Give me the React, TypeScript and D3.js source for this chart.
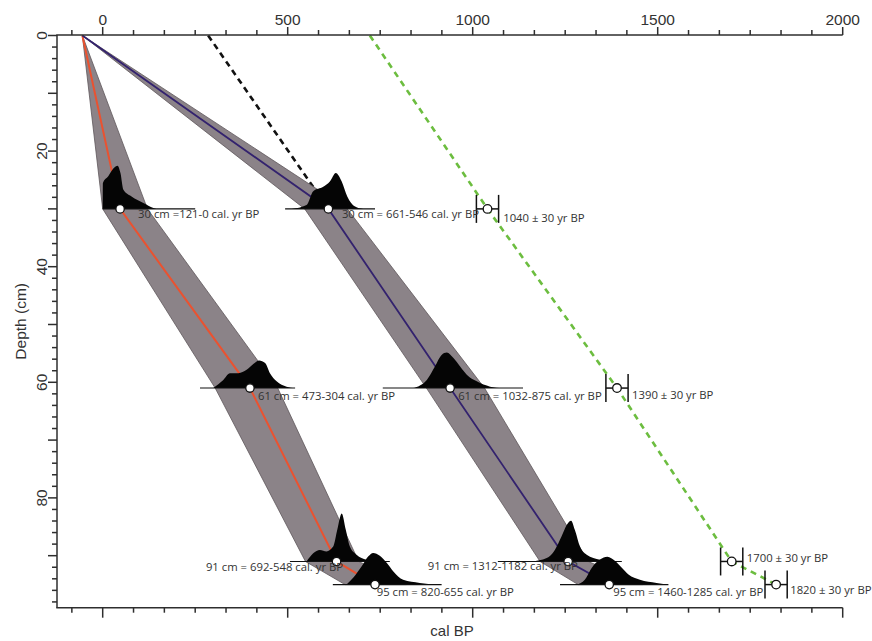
import React from "react";
import * as d3 from "d3";

// ---------- data ----------
const modelDepths = [0, 30, 61, 91, 95];
const redAges = [-55, 47, 398, 632, 736];
const redMin = [-55, 0, 304, 548, 655];
const redMax = [-55, 121, 473, 692, 820];
const blueAges = [-55, 610, 939, 1258, 1369];
const blueMin = [-55, 546, 875, 1182, 1285];
const blueMax = [-55, 661, 1032, 1312, 1460];

const blackDashDepths = [0, 30];
const blackDashAges = [285, 610];

const greenDepths = [0, 30, 61, 91, 95];
const greenAges = [722, 1040, 1390, 1700, 1820];

const uncalDepths = [30, 61, 91, 95];
const uncalAges = [1040, 1390, 1700, 1820];
const uncalErr = [30, 30, 30, 30];
const uncalLabels = ["1040 ± 30 yr BP", "1390 ± 30 yr BP", "1700 ± 30 yr BP", "1820 ± 30 yr BP"];

// calibrated probability distributions: [cal age, relative probability]
const distRed30 = [[0, 0], [0.5, 0.54], [15, 0.68], [30, 0.85], [40, 0.9], [48, 0.75], [56, 0.4], [78, 0.26], [110, 0.125], [137, 0.02], [145, 0]];
const distBlue30 = [[511, 0], [551, 0.08], [569, 0.37], [596, 0.46], [614, 0.57], [630, 0.75], [646, 0.57], [661, 0.26], [682, 0.05], [704, 0]];
const distRed61 = [[299, 0], [326, 0.17], [344, 0.31], [367, 0.31], [389, 0.38], [407, 0.5], [423, 0.575], [439, 0.52], [452, 0.31], [470, 0.14], [497, 0.03], [520, 0]];
const distBlue61 = [[839, 0], [876, 0.17], [898, 0.45], [916, 0.69], [930, 0.74], [948, 0.625], [966, 0.45], [984, 0.28], [1011, 0.14], [1047, 0.03], [1080, 0]];
const distRed91 = [[551, 0], [569, 0.17], [587, 0.24], [605, 0.21], [623, 0.31], [634, 0.66], [646, 1.0], [657, 0.66], [668, 0.31], [686, 0.14], [713, 0.035], [735, 0]];
const distRed95 = [[659, 0], [677, 0.14], [700, 0.38], [718, 0.59], [731, 0.66], [749, 0.6], [768, 0.45], [785, 0.28], [812, 0.1], [857, 0.035], [903, 0]];
const distBlue91 = [[1160, 0], [1200, 0.07], [1222, 0.24], [1240, 0.52], [1254, 0.76], [1266, 0.85], [1276, 0.66], [1290, 0.31], [1308, 0.14], [1344, 0.035], [1380, 0]];
const distBlue95 = [[1281, 0], [1303, 0.1], [1322, 0.35], [1344, 0.52], [1364, 0.58], [1385, 0.49], [1403, 0.35], [1421, 0.21], [1452, 0.1], [1497, 0.035], [1524, 0]];

const distDepths = [30, 30, 61, 61, 91, 95, 91, 95];
const distPointAges = [47, 610, 398, 939, 632, 736, 1258, 1369];
const distBaseMin = [0, 493, 263, 757, 506, 622, 1068, 1236];
const distBaseMax = [250, 736, 520, 1136, 776, 916, 1403, 1529];
const distLabels = [
  "30 cm =121-0 cal. yr BP",
  "30 cm = 661-546 cal. yr BP",
  "61 cm = 473-304 cal. yr BP",
  "61 cm = 1032-875 cal. yr BP",
  "91 cm = 692-548 cal. yr BP",
  "95 cm = 820-655 cal. yr BP",
  "91 cm = 1312-1182 cal. yr BP",
  "95 cm = 1460-1285 cal. yr BP",
];
const distCurves = [distRed30, distBlue30, distRed61, distBlue61, distRed91, distRed95, distBlue91, distBlue95];

const xMajorTicks = [0, 500, 1000, 1500, 2000];
const xTickLabels = ["0", "500", "1000", "1500", "2000"];
const yLabelTicks = [0, 20, 40, 60, 80];

// ---------- layout (positions/styles) ----------
const W = 872;
const H = 641;
const distLabelLayout = [
  { dx: 18, dy: 9, anchor: "start" },
  { dx: 13.5, dy: 9, anchor: "start" },
  { dx: 8, dy: 11.7, anchor: "start" },
  { dx: 8, dy: 11.7, anchor: "start" },
  { dx: 6.5, dy: 10, anchor: "end" },
  { dx: 1.7, dy: 11.7, anchor: "start" },
  { dx: 9.7, dy: 9, anchor: "end" },
  { dx: 4, dy: 11.7, anchor: "start" },
];
const uncalLabelLayout = [
  { dx: 15.6, dy: 13.4 },
  { dx: 15, dy: 11 },
  { dx: 15, dy: 1 },
  { dx: 14, dy: 9 },
];
const PROB_H = 48;
const AXIS_COLOR = "#2e2e2e";
const TEXT_COLOR = "#333";
const ANNOT_FONT = "'Open Sans', 'Noto Sans', sans-serif";
const AXIS_FONT = "'Liberation Sans', Arial, sans-serif";

export default function App() {
  const x = d3.scaleLinear().domain([-123.5, 2000]).range([57, 842.7]);
  const y = d3.scaleLinear().domain([0, 99]).range([35.5, 607.7]);

  const minorXTicks = d3.range(-1, 25).map((k) => (k * 500) / 6);
  const yTicks = d3.range(0, 99, 2);

  const band = d3
    .area<number>()
    .y((_, i) => y(modelDepths[i]))
    .x0((_, i) => x(0) * 0 + x(bandMinRef[i]))
    .x1((_, i) => x(bandMaxRef[i]));
  let bandMinRef = redMin;
  let bandMaxRef = redMax;
  const redBand = band(modelDepths) as string;
  bandMinRef = blueMin;
  bandMaxRef = blueMax;
  const blueBand = band(modelDepths) as string;

  const line = (ages: number[], depths: number[]) =>
    d3
      .line<number>()
      .x((a) => x(a))
      .y((_, i) => y(depths[i]))(ages) as string;

  const distPath = (pts: number[][], depth: number) =>
    d3
      .area<number[]>()
      .x((p) => x(p[0]))
      .y0(y(depth))
      .y1((p) => y(depth) - p[1] * PROB_H)
      .curve(d3.curveMonotoneX)(pts) as string;

  const yTop = y(0) - 0.5;
  const yBot = y(99);

  return (
    <svg width={W} height={H} style={{ position: "absolute", left: 0, top: 0, background: "#fff" }}>
      {/* dashed lines behind bands */}
      <path d={line(blackDashAges, blackDashDepths)} fill="none" stroke="#111" strokeWidth={2.6} strokeDasharray="6,4.5" />

      {/* uncertainty envelopes */}
      <path d={redBand} fill="#8b8388" stroke="#5e575b" strokeWidth={0.8} />
      <path d={blueBand} fill="#8b8388" stroke="#5e575b" strokeWidth={0.8} />

      {/* age-depth lines */}
      <path d={line(redAges, modelDepths)} fill="none" stroke="#ea5230" strokeWidth={2} />
      <path d={line(blueAges, modelDepths)} fill="none" stroke="#33226e" strokeWidth={1.8} />

      <path d={line(greenAges, greenDepths)} fill="none" stroke="#6cbd3f" strokeWidth={2.6} strokeDasharray="6,5" />

      {/* distributions */}
      {distCurves.map((pts, i) => (
        <g key={"d" + i}>
          <path d={distPath(pts, distDepths[i])} fill="#050505" />
          <line
            x1={x(distBaseMin[i])}
            x2={x(distBaseMax[i])}
            y1={y(distDepths[i])}
            y2={y(distDepths[i])}
            stroke="#111"
            strokeWidth={1.1}
          />
        </g>
      ))}
      {distPointAges.map((a, i) => (
        <circle key={"c" + i} cx={x(a)} cy={y(distDepths[i])} r={4.2} fill="#fff" stroke="#111" strokeWidth={1.3} />
      ))}

      {/* uncalibrated dates with error bars */}
      {uncalAges.map((a, i) => {
        const cy = y(uncalDepths[i]);
        const xl = x(a - uncalErr[i]);
        const xr = x(a + uncalErr[i]);
        return (
          <g key={"u" + i} stroke="#111" strokeWidth={1.5}>
            <line x1={xl} x2={xr} y1={cy} y2={cy} />
            <line x1={xl} x2={xl} y1={cy - 14} y2={cy + 14} />
            <line x1={xr} x2={xr} y1={cy - 14} y2={cy + 14} />
            <circle cx={x(a)} cy={cy} r={4.3} fill="#fff" strokeWidth={1.3} />
          </g>
        );
      })}

      {/* labels */}
      {distLabels.map((t, i) => (
        <text
          key={"l" + i}
          x={x(distPointAges[i]) + distLabelLayout[i].dx}
          y={y(distDepths[i]) + distLabelLayout[i].dy}
          textAnchor={distLabelLayout[i].anchor as any}
          fontFamily={ANNOT_FONT}
          fontSize={11.3}
          fill={TEXT_COLOR}
        >
          {t}
        </text>
      ))}
      {uncalLabels.map((t, i) => (
        <text
          key={"ul" + i}
          x={x(uncalAges[i] + uncalErr[i]) + uncalLabelLayout[i].dx - 11}
          y={y(uncalDepths[i]) + uncalLabelLayout[i].dy}
          fontFamily={ANNOT_FONT}
          fontSize={11.3}
          fill={TEXT_COLOR}
        >
          {t}
        </text>
      ))}

      {/* axes */}
      <g stroke={AXIS_COLOR} strokeWidth={1.5} fill="none">
        <line x1={x.range()[0] - 0.75} x2={x.range()[1]} y1={yTop} y2={yTop} />
        <line x1={x.range()[0] - 0.75} x2={x.range()[1]} y1={yBot} y2={yBot} />
        <line x1={x.range()[0]} x2={x.range()[0]} y1={yTop} y2={yBot} />
        {minorXTicks.map((t, i) => {
          const major = xMajorTicks.includes(Math.round(t));
          const len = major ? 8 : 5;
          return (
            <g key={"xt" + i}>
              <line x1={x(t)} x2={x(t)} y1={yTop} y2={yTop - len} />
              <line x1={x(t)} x2={x(t)} y1={yBot} y2={yBot + (major ? 10 : 5)} />
            </g>
          );
        })}
        {yTicks.map((t) => (
          <line key={"yt" + t} x1={x.range()[0]} x2={x.range()[0] - (t % 10 === 0 ? 9 : 5)} y1={y(t)} y2={y(t)} />
        ))}
      </g>
      {xMajorTicks.map((t, i) => (
        <text key={"xl" + i} x={x(t)} y={25} textAnchor="middle" fontFamily={AXIS_FONT} fontSize={15.5} fill={TEXT_COLOR}>
          {xTickLabels[i]}
        </text>
      ))}
      {yLabelTicks.map((t) => (
        <text
          key={"yl" + t}
          transform={`translate(47,${y(t)}) rotate(-90)`}
          textAnchor="middle"
          fontFamily={AXIS_FONT}
          fontSize={15.5}
          fill={TEXT_COLOR}
        >
          {t}
        </text>
      ))}
      <text
        transform={`translate(26,${(yTop + yBot) / 2}) rotate(-90)`}
        textAnchor="middle"
        fontFamily={AXIS_FONT}
        fontSize={15.5}
        fill={TEXT_COLOR}
      >
        Depth (cm)
      </text>
      <text x={452} y={636} textAnchor="middle" fontFamily={AXIS_FONT} fontSize={15} fill={TEXT_COLOR}>
        cal BP
      </text>
    </svg>
  );
}
